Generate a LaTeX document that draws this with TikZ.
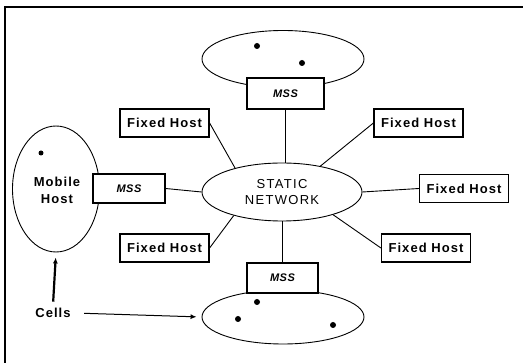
\documentclass[tikz,border=0pt]{standalone}
\usepackage{fontspec}
\setmainfont{Liberation Sans}
\usetikzlibrary{shapes.geometric,arrows.meta}
\tikzset{
  boxln/.style={draw, line width=1.2pt},
  txt/.style={font=\fontsize{13}{15}\selectfont\bfseries\addfontfeature{LetterSpace=8}},
  fh/.style={boxln, txt, minimum width=89pt, minimum height=28pt, inner sep=0pt},
  mss/.style={boxln, inner sep=0pt,
    font=\fontsize{11}{13}\selectfont\bfseries\itshape\addfontfeature{LetterSpace=4}},
  cell/.style={draw, line width=0.9pt, ellipse, inner sep=0pt},
  conn/.style={line width=0.9pt},
  dot/.style={fill=black},
}
\begin{document}
\begin{tikzpicture}[x=1pt,y=-1pt]
\useasboundingbox (0,0) rectangle (523,363);
\draw[line width=1.3pt] (5,375) -- (5,7) -- (535,7);
% cells
\node[cell, minimum width=162pt, minimum height=57pt] (topc) at (283,59) {};
\node[cell, minimum width=162pt, minimum height=54pt] (botc) at (283,317) {};
\node[cell, minimum width=87pt, minimum height=126pt] (mob) at (56,189) {};
\node[cell, minimum width=160pt, minimum height=58pt, align=center,
  font=\fontsize{13}{16}\selectfont\addfontfeature{LetterSpace=10}] (net) at (282,192) {STATIC\\NETWORK};
\node[align=center, font=\fontsize{13}{17}\selectfont\bfseries\addfontfeature{LetterSpace=8}] (mobt) at (57,190) {Mobile\\Host};
% dots
\fill[dot] (257,46) circle (3);
\fill[dot] (302,63) circle (3);
\fill[dot] (41,153) circle (2.5);
\fill[dot] (257,302) circle (3);
\fill[dot] (238,319) circle (3);
\fill[dot] (333,325) circle (3);
% MSS boxes
\node[mss, fill=white, minimum width=77pt, minimum height=31pt] (mtop) at (285.5,93.5) {MSS};
\node[mss, fill=white, minimum width=72pt, minimum height=29pt] (mleft) at (129,188.5) {MSS};
\node[mss, fill=white, minimum width=71pt, minimum height=30pt] (mbot) at (282.5,278) {MSS};
% fixed hosts
\node[fh] (fh1) at (164.5,123) {Fixed Host};
\node[fh] (fh2) at (418.5,123) {Fixed Host};
\node[fh] (fh3) at (464,188.5) {Fixed Host};
\node[fh] (fh4) at (164.5,248) {Fixed Host};
\node[fh] (fh5) at (426,248) {Fixed Host};
% connectors
\draw[conn] (mtop.south) -- (mtop.south |- net.north);
\draw[conn] (mbot.north) -- (mbot.north |- net.south);
\draw[conn] (mleft.east) -- (net.west);
\draw[conn] (fh3.west) -- (net.east);
\draw[conn] (fh1.east) -- (net.153);
\draw[conn] (fh2.west) -- (net.34);
\draw[conn] (fh4.east) -- (net.206);
\draw[conn] (fh5.west) -- (net.336);
% cells label
\node[txt] (cells) at (53,313) {Cells};
\draw[line width=2.2pt, -{Latex[length=6pt,width=5pt]}, shorten <=3pt, shorten >=5pt] (cells.north) -- (mob.south);
\draw[line width=1pt, -{Latex[length=6pt,width=5pt]}, shorten <=10pt, shorten >=5pt] (cells.east) -- (botc.west);
\end{tikzpicture}
\end{document}
